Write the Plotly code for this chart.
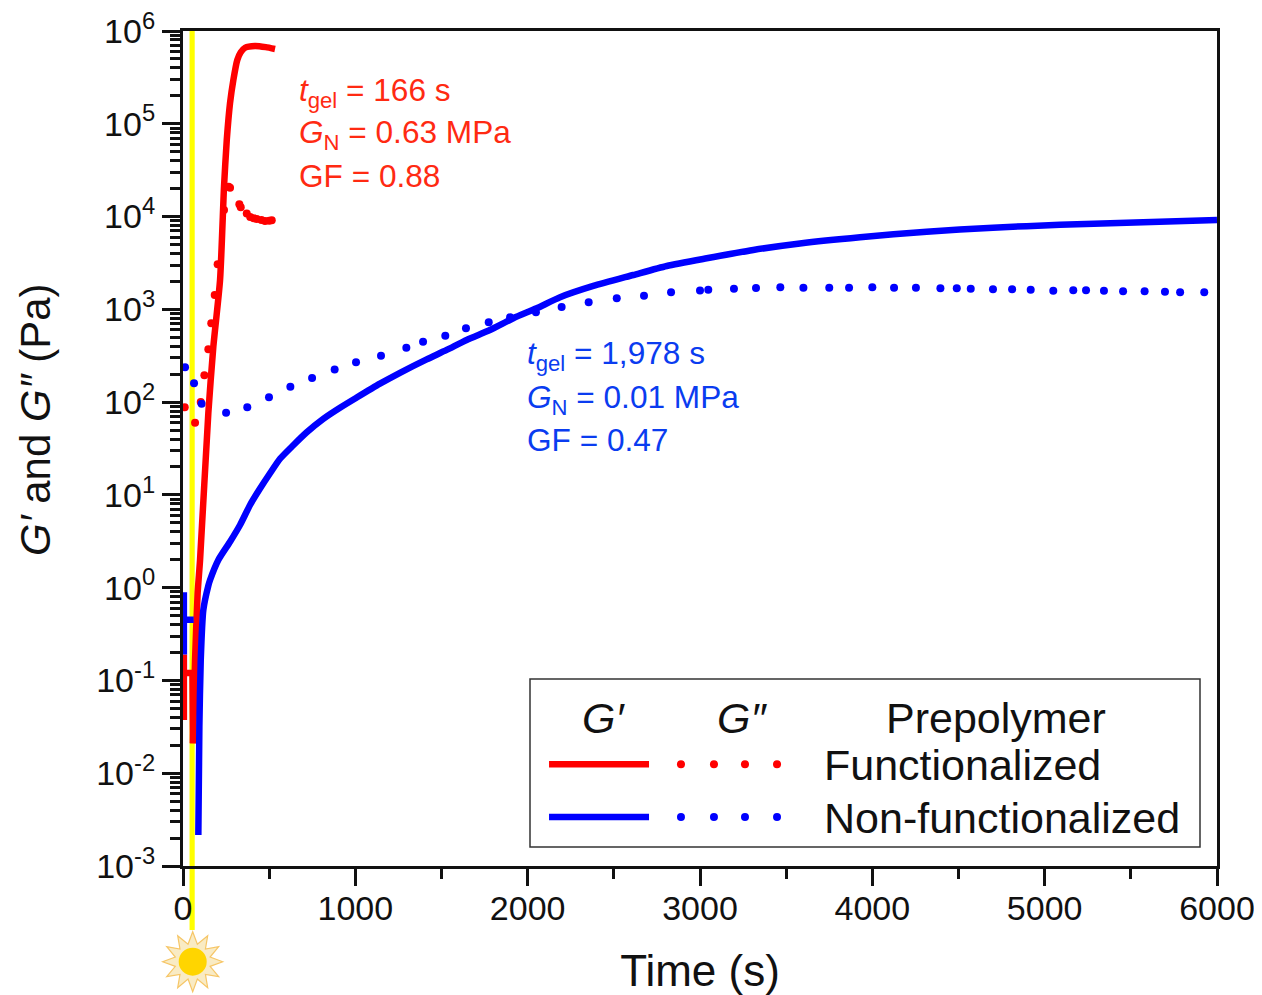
import math
import plotly.graph_objects as go

# Functionalized prepolymer
red_early_t = [5, 5, 5, 55, 58]
red_early_v = [0.0375, 0.19, 0.12, 0.12, 0.021]
red_gp_t = [58, 70, 85, 99, 147, 176, 215, 238, 254, 273, 292, 315, 335, 360, 418, 480, 534]
red_gp_v = [0.021, 0.166, 0.877, 1.99, 76, 395, 2070, 21000, 66800, 167500, 295000, 487000, 590000, 660000, 690000, 670000, 640000]
red_gpp_t = [10, 70, 103, 124, 147, 164, 184, 201, 238, 265, 273, 327, 335, 370, 390, 410, 428, 455, 476, 500, 515]
red_gpp_v = [88, 60, 100, 195, 371, 708, 1430, 3055, 11750, 21000, 20500, 13550, 12600, 10800, 9900, 9600, 9400, 9200, 8950, 9000, 9120]

# Non-functionalized prepolymer
blue_early_t = [5, 5, 5, 62]
blue_early_v = [0.89, 0.19, 0.45, 0.45]
blue_gp_t = [89, 95, 103, 118, 147, 157, 205, 273, 331, 389, 447, 505, 563, 640, 718, 814, 911, 1008, 1143, 1259, 1414, 1530, 1646, 1781, 1917, 2052, 2188, 2381, 2613, 2807, 3039, 3309, 3580, 3929, 4315, 4700, 5089, 5476, 6000]
blue_gp_v = [0.00216, 0.0316, 0.166, 0.575, 1.05, 1.21, 1.99, 3.13, 4.74, 7.78, 11.7, 17.1, 24.5, 34.3, 47.3, 66, 87, 112, 158, 207, 289, 365, 468, 598, 802, 1026, 1350, 1786, 2344, 2931, 3548, 4365, 5130, 5984, 6870, 7585, 8166, 8590, 9180]
blue_gpp_t = [12, 64, 108, 250, 373, 499, 623, 749, 880, 1004, 1149, 1296, 1393, 1522, 1642, 1774, 1898, 2048, 2197, 2354, 2517, 2675, 2832, 3000, 3048, 3197, 3325, 3466, 3600, 3750, 3865, 4000, 4126, 4253, 4395, 4490, 4571, 4700, 4811, 4919, 5050, 5166, 5240, 5344, 5455, 5580, 5698, 5786, 5926]
blue_gpp_v = [237, 160, 96, 77, 88, 113, 146, 182, 224, 269, 316, 386, 448, 520, 625, 725, 820, 929, 1060, 1190, 1315, 1400, 1527, 1600, 1630, 1667, 1698, 1730, 1710, 1710, 1710, 1730, 1710, 1710, 1687, 1687, 1667, 1644, 1644, 1630, 1590, 1603, 1603, 1590, 1563, 1563, 1549, 1527, 1527]

y_tick_vals = [1e-3, 1e-2, 1e-1, 1, 10, 100, 1e3, 1e4, 1e5, 1e6]
y_tick_text = ["10<sup>-3</sup>", "10<sup>-2</sup>", "10<sup>-1</sup>", "10<sup>0</sup>", "10<sup>1</sup>",
               "10<sup>2</sup>", "10<sup>3</sup>", "10<sup>4</sup>", "10<sup>5</sup>", "10<sup>6</sup>"]
y_minor_vals = [m * v for v in y_tick_vals[:-1] for m in range(2, 10)]

key_line_x = [0.354, 0.4507]
key_dot_x = [0.4816, 0.5135, 0.5435, 0.5745]
key_y_func = 0.122
key_y_non = 0.0587

RED, BLUE = "#FF0000", "#0000FF"
TXT_RED, TXT_BLUE = "#FF2A12", "#0A3CF0"
INK = "#111111"
FONT = "Liberation Sans"
# The page adds an 8 px body margin, so the figure is 8 px smaller and all page positions shift by 8.
PAGE = 8
W, H = 1262 - PAGE, 995 - PAGE
L, R, T, B = 183, 1217, 31, 866


def px(x):
    return (x - L) / (R - L)


def py(y):
    return (B - y) / (B - T)


fig = go.Figure()
LW = 6.5
MS = 8
SMOOTH = dict(shape="spline", smoothing=0.6)
fig.add_trace(go.Scatter(x=red_gpp_t, y=red_gpp_v, mode="markers", marker=dict(color=RED, size=MS), name="Functionalized G''"))
fig.add_trace(go.Scatter(x=blue_gpp_t, y=blue_gpp_v, mode="markers", marker=dict(color=BLUE, size=MS), name="Non-functionalized G''", cliponaxis=False))
fig.add_trace(go.Scatter(x=red_early_t, y=red_early_v, mode="lines", line=dict(color=RED, width=LW)))
fig.add_trace(go.Scatter(x=red_gp_t, y=red_gp_v, mode="lines", line=dict(color=RED, width=LW, **SMOOTH), name="Functionalized G'"))
fig.add_trace(go.Scatter(x=blue_early_t, y=blue_early_v, mode="lines", line=dict(color=BLUE, width=LW)))
fig.add_trace(go.Scatter(x=blue_gp_t, y=blue_gp_v, mode="lines", line=dict(color=BLUE, width=LW, **SMOOTH), name="Non-functionalized G'"))

# key samples of the hand-laid legend box
for colour, ky in ((RED, key_y_func), (BLUE, key_y_non)):
    fig.add_trace(go.Scatter(x=key_line_x, y=[ky, ky], xaxis="x2", yaxis="y2", mode="lines",
                             line=dict(color=colour, width=LW), showlegend=False))
    fig.add_trace(go.Scatter(x=key_dot_x, y=[ky] * 4, xaxis="x2", yaxis="y2", mode="markers",
                             marker=dict(color=colour, size=MS), showlegend=False))

annos = []


def note(text, x, y, size, colour=INK, anchor="left", angle=0):
    annos.append(dict(text=text, x=px(x), y=py(y), xref="paper", yref="paper", xanchor=anchor, yanchor="middle",
                      showarrow=False, textangle=angle, font=dict(family=FONT, size=size, color=colour)))


for i, s in enumerate(["<i>t</i><sub>gel</sub> = 166 s", "<i>G</i><sub>N</sub> = 0.63 MPa", "GF = 0.88"]):
    note(s, 297, [92, 135, 176][i], 31.6, TXT_RED)
for i, s in enumerate(["<i>t</i><sub>gel</sub> = 1,978 s", "<i>G</i><sub>N</sub> = 0.01 MPa", "GF = 0.47"]):
    note(s, 525, [356, 399, 440][i], 31.6, TXT_BLUE)
note("<i>G′</i>", 603, 718, 43, anchor="center")
note("<i>G″</i>", 742, 718, 43, anchor="center")
note("Prepolymer", 996, 718, 43, anchor="center")
note("Functionalized", 822, 765, 43)
note("Non-functionalized", 822, 818, 43)
note("<i>G′</i> and <i>G″</i> (Pa)", 35, 420, 42, anchor="center", angle=-90)

# sun decoration below the yellow irradiation band
sun_pts = []
for k in range(24):
    r = 30 if k % 2 == 0 else 18
    a = math.pi * k / 12
    sun_pts.append((r * math.cos(a), r * math.sin(a)))
sun_path = "M " + " L ".join(f"{a:.2f} {b:.2f}" for a, b in sun_pts) + " Z"
shapes = [
    dict(type="rect", xref="x", yref="paper", x0=38, x1=68, y0=py(930), y1=1, fillcolor="#FFFF00",
         line_width=0, layer="below"),
    dict(type="path", path=sun_path, xref="paper", yref="paper", xsizemode="pixel", ysizemode="pixel",
         xanchor=px(192.7), yanchor=py(961.7), fillcolor="#F9EBC4", line=dict(color="#F6C667", width=1.2)),
    dict(type="circle", xref="paper", yref="paper", xsizemode="pixel", ysizemode="pixel", xanchor=px(192.7),
         yanchor=py(961.7), x0=-14, x1=14, y0=-14, y1=14, fillcolor="#FFD500", line_width=0),
    dict(type="rect", xref="paper", yref="paper", x0=px(530), x1=px(1200), y0=py(847), y1=py(679),
         line=dict(color="#333333", width=1.5), layer="below"),
]

fig.update_layout(
    width=W, height=H, margin=dict(l=L - PAGE, r=W + PAGE - R, t=T - PAGE, b=H + PAGE - B), autosize=False,
    paper_bgcolor="white", plot_bgcolor="white", showlegend=False,
    font=dict(family=FONT, size=34, color=INK),
    annotations=annos, shapes=shapes,
    xaxis=dict(range=[0, 6000], dtick=1000, tick0=0, ticks="outside", ticklen=17, tickwidth=3, tickcolor=INK,
               showline=True, linewidth=3, linecolor=INK, mirror=True, showgrid=False, zeroline=False,
               tickfont=dict(size=34), ticklabelstandoff=-7, automargin=False, ticklabeloverflow="allow",
               minor=dict(dtick=500, ticks="outside", ticklen=10, tickwidth=3, tickcolor=INK, showgrid=False),
               title=dict(text="Time (s)", font=dict(size=44), standoff=30)),
    yaxis=dict(type="log", range=[-3, 6], tickmode="array", tickvals=y_tick_vals, ticktext=y_tick_text,
               ticks="outside", ticklen=18, tickwidth=3, tickcolor=INK,
               showline=True, linewidth=3, linecolor=INK, mirror=True, showgrid=False, zeroline=False,
               tickfont=dict(size=34), automargin=False, ticklabeloverflow="allow",
               minor=dict(tickmode="array", tickvals=y_minor_vals, ticks="outside", ticklen=10, tickwidth=2.5,
                          tickcolor=INK, showgrid=False)),
    xaxis2=dict(overlaying="x", range=[0, 1], visible=False),
    yaxis2=dict(overlaying="y", range=[0, 1], visible=False),
)

fig.write_html("out.html")
